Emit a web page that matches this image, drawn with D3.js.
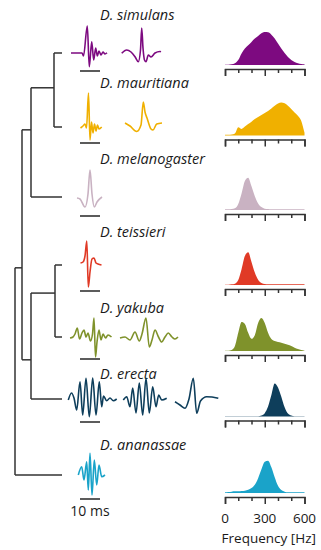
<!DOCTYPE html>
<html><head><meta charset="utf-8">
<script src="https://cdn.jsdelivr.net/npm/d3@7"></script>
<style>
body{margin:0;background:#fff}
svg{display:block;font-family:"Open Sans",sans-serif}
</style></head><body>
<svg id="chart" width="321" height="550"></svg>
<script>
const species=['D. simulans','D. mauritiana','D. melanogaster','D. teissieri','D. yakuba','D. erecta','D. ananassae'];
const colors=['#7d0a80','#f0b000','#c9b2c2','#e03a26','#7f922b','#0e3e5b','#1aa3c9'];

// power spectra, sampled every 25 Hz from 0 to 600, normalised to peak
const freqs=d3.range(0,601,25);
const specSimulans=[.01,.01,.02,.05,.15,.35,.5,.6,.7,.8,.88,.96,1,.99,.92,.8,.65,.5,.36,.24,.15,.09,.05,.03,.02];
const specMauritiana=[.02,.02,.03,.06,.25,.2,.27,.35,.42,.5,.56,.62,.68,.74,.82,.9,.97,1,.98,.9,.8,.7,.6,.45,.08];
const specMelanogaster=[.02,.02,.03,.05,.18,.5,.88,.98,.72,.42,.2,.09,.04,.03,.02,.02,.02,.02,.02,.02,.02,.02,.02,.02,.02];
const specTeissieri=[.01,.01,.02,.04,.15,.48,.88,.99,.7,.38,.16,.06,.03,.02,.02,.02,.02,.02,.02,.02,.02,.02,.02,.02,.02];
const specYakuba=[.01,.01,.03,.15,.55,.88,.82,.55,.37,.48,.85,1,.85,.55,.36,.3,.27,.25,.22,.19,.15,.1,.06,.03,.01];
const specErecta=[.01,.01,.01,.01,.01,.01,.01,.01,.01,.01,.01,.03,.1,.3,.65,1,.88,.6,.28,.09,.03,.01,.01,.01,.01];
const specAnanassae=[.02,.03,.04,.05,.05,.06,.07,.1,.15,.25,.45,.72,.95,.98,.78,.48,.22,.09,.04,.02,.02,.02,.02,.02,.02];
const spectra=[specSimulans,specMauritiana,specMelanogaster,specTeissieri,specYakuba,specErecta,specAnanassae];

// song pulses: [time ms, amplitude]
const pulsesSimulans=[
  [[1.5,0],[7,0],[7.75,-.12],[9.65,1.08],[10.65,-.55],[11.85,.45],[12.85,-.28],[13.85,.2],[14.65,-.12],[15.5,.08],[16.5,-.08],[17.5,.04],[18.5,-.04],[19.5,.01]],
  [[.85,-.01],[3.35,.12],[5.5,.04],[7.5,-.15],[9.15,-.35],[10.25,.12],[10.85,1],[11.5,.2],[12.25,-.28],[13,-.35],[14.15,-.08],[15.5,-.16],[17.5,0],[20,.06],[20.5,.05]]
];
const pulsesMauritiana=[
  [[6.25,-.04],[7.5,.04],[8.5,.12],[9.25,-.04],[10.25,1.36],[11,-.52],[11.75,.2],[12.5,-.24],[13.25,.12],[14,-.16],[14.75,.08],[15.5,-.08],[16.85,0]],
  [[2.5,.16],[5,.04],[8.35,-.18],[10.5,.08],[11.65,1],[12.5,.6],[13.5,.36],[15.5,-.08],[16.5,-.12],[18.35,.12],[21,.16]]
];
const pulsesMelanogaster=[
  [[4.5,-.04],[6,-.08],[8.5,-.4],[10,.12],[11,1.08],[12,.12],[13.15,-.4],[14.5,-.2],[17,0]]
];
const pulsesTeissieri=[
  [[6.25,.08],[7.5,.12],[8.5,.36],[9.4,.96],[10.15,-.88],[11,-.28],[12,.24],[13,.28],[14,.08],[15,.04],[16.75,0]]
];
const pulsesYakuba=[
  [[1,-.04],[2.5,0],[3.5,.12],[4.65,.36],[5.75,-.08],[7,.16],[8,.28],[9,0],[10,.16],[11.25,-.16],[12.25,.12],[13,.76],[13.75,-.8],[14.5,-.2],[15.5,.28],[16.5,-.12],[17.5,.12],[18.75,-.04],[20,.08],[21.75,0]],
  [[0,-.04],[2.5,0],[5,-.12],[7.5,.2],[9.65,-.16],[11,.12],[13,.76],[14.65,-.4],[16,-.12],[17.5,.28],[19.25,0],[20.85,-.2],[22.5,0],[24.15,.16],[26,0],[27.5,-.08],[29,0]]
];
const pulsesErecta=[
  [[.15,-.04],[1.75,.24],[3,.04],[4.35,-.44],[6,.69],[7.35,-.64],[9,.83],[10.65,-.71],[12.35,.84],[14,-.64],[15.65,.69],[16.85,-.31],[17.75,.12],[19.35,-.07],[21,.04],[22.65,-.07],[24.35,0]],
  [[1.65,-.04],[3.35,.09],[5,-.31],[6.35,.44],[8,-.56],[9.65,.64],[11.35,-.64],[13,.83],[14.65,-.56],[16.35,.49],[18,-.31],[19.35,.16],[20.85,-.04],[23.35,.03]],
  [[.5,-.11],[3,-.24],[5.5,-.37],[7.5,0],[9.65,.83],[11.35,-.57],[13.25,-.08],[16.35,.09],[19,.08],[22.15,.03]]
];
const pulsesAnanassae=[
  [[5.15,0],[6.85,.33],[8,-.2],[9.35,.53],[10.15,-.6],[11,.87],[12,-.8],[13.15,.6],[14.35,-.4],[15.5,.4],[16.85,-.07],[18.5,0]]
];
const pulses=[pulsesSimulans,pulsesMauritiana,pulsesMelanogaster,pulsesTeissieri,pulsesYakuba,pulsesErecta,pulsesAnanassae];

// phylogeny: depth in branch units, attach = where the stem meets the children span
const tree={depth:0,children:[
  {depth:7,attach:.6,children:[
    {depth:16,attach:.385,children:[
      {depth:39,attach:.47,children:[{name:0},{name:1}]},
      {name:2}]},
    {depth:16,attach:.63,children:[
      {depth:40,attach:.39,children:[{name:3},{name:4}]},
      {name:5}]}]},
  {name:6}]};
const leafDepth=47;
const freqTicks=[0,100,200,300,400,500,600];
const freqLabels=[0,300,600];

// layout
const rowY=[53,127,197,265,337,399,475];
const labelY=[20,88,164,237,313,379,450];
const barY=[71,143,216,291,359,422,499];
const axisY=[69,139.5,214,289,355,420.5,497];
const colX=[68,120,174];

const svg=d3.select('#chart');
const ink='#333';
const txt='#1a1a1a';

// tree
const xT=d3.scaleLinear().domain([0,leafDepth]).range([15,62]);
const root=d3.hierarchy(tree);
root.eachAfter(n=>{
  if(!n.children){ n.ty=rowY[n.data.name]; n.tx=xT(leafDepth); return; }
  const a=n.children[0].ty, b=n.children[n.children.length-1].ty;
  n.span=[a,b]; n.ty=a+(n.data.attach||0)*(b-a); n.tx=xT(n.data.depth);
});
const gT=svg.append('g').attr('stroke',ink).attr('stroke-width',1.5).attr('fill','none');
root.each(n=>{
  if(!n.children) return;
  gT.append('line').attr('x1',n.tx).attr('x2',n.tx).attr('y1',n.span[0]).attr('y2',n.span[1]);
  n.children.forEach(c=>gT.append('line').attr('x1',n.tx).attr('x2',c.tx).attr('y1',c.ty).attr('y2',c.ty));
});

// labels
svg.append('g').selectAll('text').data(species).join('text')
  .attr('x',100).attr('y',(d,i)=>labelY[i]).attr('font-size',14.5).attr('font-style','italic').attr('fill',txt).text(d=>d);

// pulses
const tx=d3.scaleLinear().domain([0,1]).range([0,2]);
const ay=d3.scaleLinear().domain([-1,1]).range([25,-25]);
pulses.forEach((set,i)=>{
  set.forEach((p,j)=>{
    const line=d3.line().x(d=>colX[j]+tx(d[0])).y(d=>rowY[i]+ay(d[1])).curve(d3.curveMonotoneX);
    svg.append('path').attr('d',line(p)).attr('fill','none').attr('stroke',colors[i]).attr('stroke-width',1.6).attr('stroke-linejoin','round');
  });
  svg.append('line').attr('x1',colX[0]+tx(6)).attr('x2',colX[0]+tx(16)).attr('y1',barY[i]).attr('y2',barY[i]).attr('stroke',ink).attr('stroke-width',1.6);
});
svg.append('text').attr('x',colX[0]+tx(11)).attr('y',516).attr('text-anchor','middle').attr('font-size',14).attr('fill',txt).text('10 ms');

// spectra
const fx=d3.scaleLinear().domain([0,600]).range([225,304.5]);
const hy=d3.scaleLinear().domain([0,1]).range([0,33]);
spectra.forEach((s,i)=>{
  const base=axisY[i]-4;
  const area=d3.area().x((d,k)=>fx(freqs[k])).y0(base).y1(d=>base-hy(d)).curve(d3.curveMonotoneX);
  svg.append('path').attr('d',area(s)).attr('fill',colors[i]);
  const ax=d3.axisBottom(fx).tickValues(freqTicks).tickSize(4).tickSizeOuter(7).tickFormat('');
  const g=svg.append('g').attr('transform',`translate(0,${axisY[i]})`).call(ax);
  g.selectAll('path,line').attr('stroke',ink).attr('stroke-width',1.5);
  g.selectAll('.tick').filter(d=>d===0||d===300||d===600).select('line').attr('y2',7);
});
svg.append('g').selectAll('text').data(freqLabels).join('text')
  .attr('x',d=>fx(d)).attr('y',523).attr('text-anchor','middle').attr('font-size',13.5).attr('fill',txt).text(d=>d);
svg.append('text').attr('x',fx(300)+4).attr('y',543).attr('text-anchor','middle').attr('font-size',13.5).attr('fill',txt).text('Frequency [Hz]');
</script>
</body></html>
